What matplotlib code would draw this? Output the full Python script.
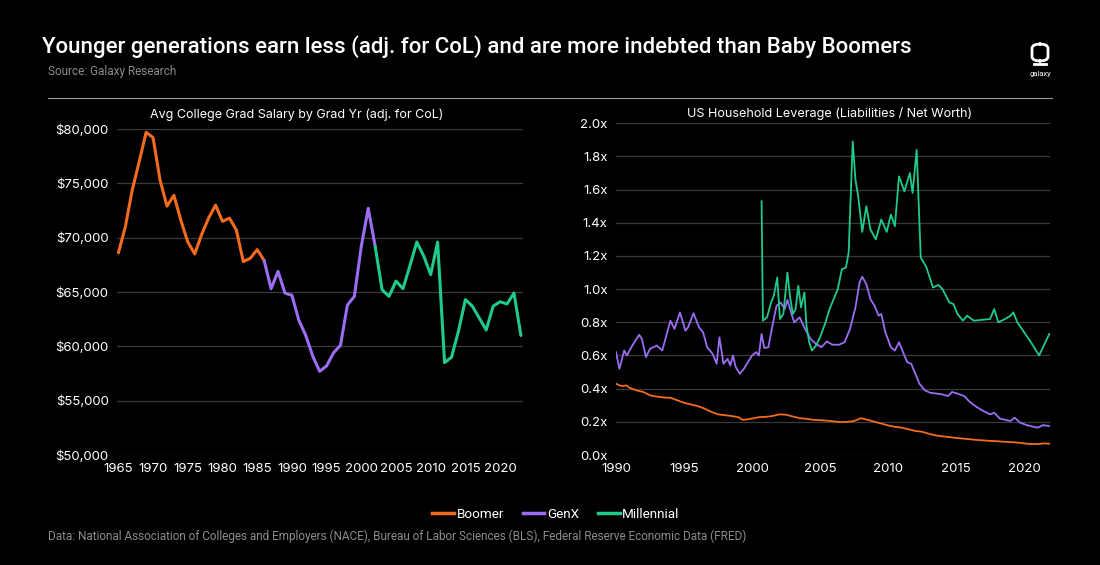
import matplotlib
matplotlib.use("Agg")
import matplotlib.pyplot as plt
from matplotlib.patches import FancyBboxPatch
from matplotlib.lines import Line2D

# Left chart: avg college grad salary by grad year (adj. for CoL)
salary_years = list(range(1965, 2024))
salary_values = [
    68600, 71000, 74400, 77000, 79700, 79200, 75300, 72900, 73900, 71600,
    69600, 68500, 70300, 71800, 73000, 71500, 71800, 70700, 67800, 68100,
    68900, 67900, 65300, 66900, 64900, 64700, 62400, 61000, 59100, 57700,
    58200, 59400, 60100, 63800, 64600, 69200, 72700, 69200, 65200, 64600,
    66000, 65300, 67400, 69600, 68300, 66600, 69600, 58500, 59000, 61400,
    64300, 63700, 62600, 61500, 63700, 64100, 63900, 64900, 61000,
]
boomer_end = 1986
genx_end = 2002

# Right chart: US household leverage (liabilities / net worth)
boomer_lev_x = [1990.0, 1990.25, 1990.5, 1990.75, 1991.0, 1991.5, 1992.0, 1992.5, 1993.0, 1993.5,
                1994.0, 1994.5, 1995.0, 1995.5, 1996.0, 1996.5, 1997.0, 1997.5, 1998.0, 1998.5,
                1999.0, 1999.3, 1999.7, 2000.0, 2000.5, 2001.0, 2001.5, 2002.0, 2002.5, 2003.0,
                2003.5, 2004.0, 2004.5, 2005.0, 2005.5, 2006.0, 2006.5, 2007.0, 2007.5, 2008.0,
                2008.5, 2009.0, 2009.5, 2010.0, 2010.5, 2011.0, 2011.5, 2012.0, 2012.5, 2013.0,
                2013.5, 2014.0, 2014.5, 2015.0, 2015.5, 2016.0, 2016.5, 2017.0, 2017.5, 2018.0,
                2018.5, 2019.0, 2019.5, 2020.0, 2020.5, 2021.0, 2021.5, 2021.85]
boomer_lev_y = [0.43, 0.42, 0.415, 0.42, 0.405, 0.39, 0.38, 0.36, 0.352, 0.347,
                0.345, 0.33, 0.315, 0.305, 0.295, 0.28, 0.26, 0.245, 0.24, 0.235,
                0.228, 0.212, 0.215, 0.22, 0.228, 0.23, 0.235, 0.245, 0.243, 0.232,
                0.222, 0.218, 0.212, 0.21, 0.207, 0.203, 0.198, 0.2, 0.205, 0.222,
                0.212, 0.2, 0.19, 0.178, 0.17, 0.165, 0.155, 0.145, 0.14, 0.128,
                0.118, 0.112, 0.108, 0.103, 0.099, 0.095, 0.091, 0.088, 0.085, 0.083,
                0.08, 0.078, 0.075, 0.07, 0.066, 0.066, 0.07, 0.068]

genx_lev_x = [1990.0, 1990.25, 1990.6, 1990.8, 1991.2, 1991.7, 1991.9, 1992.2, 1992.5, 1993.0,
              1993.4, 1993.7, 1994.0, 1994.3, 1994.7, 1995.1, 1995.3, 1995.7, 1996.1, 1996.4,
              1996.7, 1997.1, 1997.4, 1997.6, 1997.9, 1998.2, 1998.4, 1998.6, 1998.8, 1999.1,
              1999.4, 1999.7, 2000.0, 2000.3, 2000.5, 2000.7, 2000.9, 2001.2, 2001.5, 2001.8,
              2002.1, 2002.4, 2002.6, 2002.9, 2003.1, 2003.5, 2003.9, 2004.3, 2004.7, 2005.1,
              2005.5, 2005.9, 2006.4, 2006.8, 2007.2, 2007.6, 2007.9, 2008.1, 2008.4, 2008.7,
              2009.0, 2009.3, 2009.5, 2009.8, 2010.2, 2010.5, 2010.8, 2011.1, 2011.4, 2011.7,
              2012.0, 2012.3, 2012.7, 2013.1, 2013.6, 2014.0, 2014.4, 2014.7, 2015.1, 2015.6,
              2016.0, 2016.5, 2017.0, 2017.5, 2017.8, 2018.2, 2018.7, 2019.0, 2019.3, 2019.7,
              2020.2, 2020.7, 2021.0, 2021.4, 2021.85]
genx_lev_y = [0.62, 0.52, 0.63, 0.60, 0.66, 0.725, 0.70, 0.59, 0.64, 0.66,
              0.63, 0.72, 0.81, 0.76, 0.86, 0.75, 0.77, 0.855, 0.77, 0.74,
              0.65, 0.61, 0.55, 0.71, 0.55, 0.58, 0.54, 0.60, 0.53, 0.49,
              0.52, 0.56, 0.60, 0.62, 0.60, 0.73, 0.645, 0.65, 0.78, 0.90,
              0.92, 0.88, 0.935, 0.85, 0.80, 0.83, 0.76, 0.70, 0.67, 0.65,
              0.685, 0.665, 0.665, 0.68, 0.76, 0.89, 1.04, 1.075, 1.03, 0.94,
              0.90, 0.84, 0.85, 0.74, 0.65, 0.63, 0.68, 0.62, 0.56, 0.55,
              0.49, 0.43, 0.39, 0.375, 0.37, 0.365, 0.355, 0.38, 0.37, 0.355,
              0.32, 0.29, 0.265, 0.245, 0.255, 0.22, 0.21, 0.205, 0.225, 0.195,
              0.18, 0.17, 0.165, 0.18, 0.175]

mill_lev_x = [2000.7, 2000.8, 2001.1, 2001.4, 2001.6, 2001.85, 2002.05, 2002.3, 2002.6, 2002.8,
              2003.0, 2003.2, 2003.4, 2003.6, 2003.85, 2004.0, 2004.2, 2004.4, 2004.7, 2005.0,
              2005.4, 2005.7, 2006.0, 2006.3, 2006.6, 2006.9, 2007.1, 2007.4, 2007.6, 2007.8,
              2008.1, 2008.4, 2008.7, 2009.1, 2009.5, 2009.9, 2010.2, 2010.5, 2010.8, 2011.2,
              2011.6, 2011.8, 2012.1, 2012.4, 2012.8, 2013.3, 2013.7, 2014.0, 2014.5, 2014.8,
              2015.1, 2015.5, 2015.8, 2016.3, 2016.9, 2017.5, 2017.8, 2018.1, 2018.6, 2019.0,
              2019.2, 2019.5, 2020.0, 2020.5, 2021.1, 2021.5, 2021.85]
mill_lev_y = [1.53, 0.81, 0.83, 0.92, 0.96, 1.07, 0.82, 0.85, 1.10, 0.95,
              0.85, 0.88, 1.02, 0.89, 0.98, 0.78, 0.68, 0.63, 0.66, 0.71,
              0.80, 0.88, 0.94, 1.00, 1.12, 1.13, 1.22, 1.89, 1.66, 1.56,
              1.345, 1.50, 1.36, 1.30, 1.42, 1.345, 1.45, 1.38, 1.68, 1.59,
              1.70, 1.58, 1.84, 1.19, 1.135, 1.01, 1.025, 1.00, 0.92, 0.91,
              0.85, 0.81, 0.84, 0.81, 0.815, 0.82, 0.88, 0.80, 0.82, 0.84,
              0.86, 0.80, 0.74, 0.68, 0.60, 0.67, 0.73]

ORANGE = "#F26B1F"
PURPLE = "#9B6DF2"
GREEN = "#1FCB8B"
GRID = "#3a3a3a"
GREY = "#8c8c8c"
COND = ["Roboto", "DejaVu Sans"]
SANS = ["Inter", "DejaVu Sans"]

fig = plt.figure(figsize=(11, 5.65), dpi=100, facecolor="black")

def style_axes(ax):
    ax.set_facecolor("black")
    for s in ax.spines.values():
        s.set_visible(False)
    ax.grid(axis="y", color=GRID, lw=0.9)
    ax.set_axisbelow(True)
    ax.tick_params(length=0, colors="white", labelsize=9.5, pad=6)
    for lab in ax.get_xticklabels() + ax.get_yticklabels():
        lab.set_family(SANS)

# left
ax1 = fig.add_axes([117 / 1100, 1 - 455 / 565, 406 / 1100, 326 / 565])
boomer_mask = [y <= boomer_end for y in salary_years]
genx_mask = [boomer_end <= y <= genx_end for y in salary_years]
mill_mask = [y >= genx_end for y in salary_years]
for mask, c in [(boomer_mask, ORANGE), (genx_mask, PURPLE), (mill_mask, GREEN)]:
    xs = [x for x, m in zip(salary_years, mask) if m]
    ys = [v for v, m in zip(salary_values, mask) if m]
    ax1.plot(xs, ys, color=c, lw=2.2, solid_joinstyle="round", solid_capstyle="round")
ax1.set_xlim(1964.8, 2023.3)
ax1.set_ylim(50000, 80000)
ax1.set_xticks(range(1965, 2021, 5))
ax1.set_yticks(range(50000, 80001, 5000))
ax1.set_yticklabels([f"${v:,}" for v in range(50000, 80001, 5000)])
style_axes(ax1)

# right
ax2 = fig.add_axes([616 / 1100, 1 - 455 / 565, 434 / 1100, 331.7 / 565])
l1, = ax2.plot(boomer_lev_x, boomer_lev_y, color=ORANGE, lw=1.3, solid_joinstyle="round")
l2, = ax2.plot(genx_lev_x, genx_lev_y, color=PURPLE, lw=1.3, solid_joinstyle="round")
l3, = ax2.plot(mill_lev_x, mill_lev_y, color=GREEN, lw=1.3, solid_joinstyle="round")
ax2.set_xlim(1990, 2021.9)
ax2.set_ylim(0, 2.0)
ax2.set_xticks(range(1990, 2021, 5))
ax2.set_yticks([i / 5 for i in range(11)])
ax2.set_yticklabels([f"{i / 5:.1f}x" for i in range(11)])
style_axes(ax2)

# subplot titles
fig.text(297 / 1100, 1 - 115 / 565, "Avg College Grad Salary by Grad Yr (adj. for CoL)",
         color="white", fontsize=9.0, family=SANS, ha="center", va="center")
fig.text(830 / 1100, 1 - 114 / 565, "US Household Leverage (Liabilities / Net Worth)",
         color="white", fontsize=9.1, family=SANS, ha="center", va="center")

# header
fig.text(42 / 1100, 1 - 47 / 565,
         "Younger generations earn less (adj. for CoL) and are more indebted than Baby Boomers",
         color="white", fontsize=16, family=COND, weight="medium", ha="left", va="center")
fig.text(48 / 1100, 1 - 72 / 565, "Source: Galaxy Research", color=GREY, fontsize=8.5,
         family=COND, ha="left", va="center")
fig.add_artist(Line2D([48 / 1100, 1052 / 1100], [1 - 98 / 565, 1 - 98 / 565],
                      color="#9a9a9a", lw=0.8, transform=fig.transFigure))

# logo
fig.add_artist(FancyBboxPatch((1032 / 1100, 1 - 61 / 565), 16 / 1100, 17 / 565,
                              boxstyle="round,pad=0,rounding_size=0.008",
                              transform=fig.transFigure, fill=False, ec="white", lw=2.0))
fig.add_artist(Line2D([1034 / 1100, 1046 / 1100], [1 - 64 / 565, 1 - 64 / 565],
                      color="white", lw=2.0, transform=fig.transFigure))
fig.text(1040 / 1100, 1 - 74 / 565, "galaxy", color="white", fontsize=5.5, family=COND,
         ha="center", va="center")

# legend
fig.legend([l1, l2, l3], ["Boomer", "GenX", "Millennial"], loc="center",
           bbox_to_anchor=(556 / 1100, 1 - 514 / 565), ncol=3, frameon=False,
           handlelength=1.6, handletextpad=0.2, columnspacing=1.4,
           prop={"family": COND, "size": 9.7}, labelcolor="white")
for h in fig.legends[0].legend_handles:
    h.set_linewidth(2.5)

fig.text(48 / 1100, 1 - 536 / 565,
         "Data: National Association of Colleges and Employers (NACE), Bureau of Labor Sciences (BLS), Federal Reserve Economic Data (FRED)",
         color=GREY, fontsize=8.5, family=COND, ha="left", va="center")

fig.savefig("out.png", dpi=100, facecolor="black")
